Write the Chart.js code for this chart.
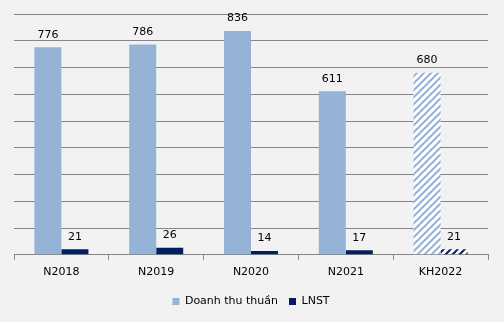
<!DOCTYPE html>
<html>
<head>
<meta charset="utf-8">
<script src="https://cdn.jsdelivr.net/npm/chart.js@4"></script>
<style>
  html, body { margin: 0; padding: 0; background: #f2f2f2; }
  #wrap { width: 504px; height: 322px; }
</style>
</head>
<body>
<div id="wrap"><canvas id="chart" width="504" height="322"></canvas></div>
<script>
// chart data
const categories = ["N2018", "N2019", "N2020", "N2021", "KH2022"];
const revenue = [776, 786, 836, 611, 680];
const profit = [21, 26, 14, 17, 21];
const seriesNames = ["Doanh thu thuần", "LNST"];
const planIndex = 4; // last column is the plan (hatched)

const BLUE = "#95b3d7";
const NAVY = "#002060";
const FONT = "'DejaVu Sans', sans-serif";

// diagonal hatch pattern
function hatch(color) {
  const c = document.createElement("canvas");
  c.width = 7;
  c.height = 7;
  const ctx = c.getContext("2d");
  ctx.fillStyle = "#ffffff";
  ctx.fillRect(0, 0, 7, 7);
  ctx.strokeStyle = color;
  ctx.lineWidth = 2;
  ctx.beginPath();
  ctx.moveTo(-2, 9); ctx.lineTo(9, -2);
  ctx.moveTo(-5, 5); ctx.lineTo(5, -5);
  ctx.moveTo(2, 12); ctx.lineTo(12, 2);
  ctx.stroke();
  return ctx.createPattern(c, "repeat");
}

const canvas = document.getElementById("chart");
const blueHatch = hatch(BLUE);
const navyHatch = hatch(NAVY);

const revenueColors = categories.map((_, i) => (i === planIndex ? blueHatch : BLUE));
const profitColors = categories.map((_, i) => (i === planIndex ? navyHatch : NAVY));

// value labels above bars
const valueLabels = {
  id: "valueLabels",
  afterDatasetsDraw(chart) {
    const ctx = chart.ctx;
    ctx.save();
    ctx.font = "11px " + FONT;
    ctx.fillStyle = "#000";
    ctx.textAlign = "center";
    ctx.textBaseline = "bottom";
    chart.data.datasets.forEach((ds, di) => {
      const meta = chart.getDatasetMeta(di);
      meta.data.forEach((bar, i) => {
        ctx.fillText(String(ds.data[i]), bar.x, bar.y - 7);
      });
    });
    ctx.restore();
  },
};

new Chart(canvas, {
  type: "bar",
  data: {
    labels: categories,
    datasets: [
      {
        label: seriesNames[0],
        data: revenue,
        backgroundColor: revenueColors,
        borderWidth: 0,
        barPercentage: 1,
        categoryPercentage: 0.57,
      },
      {
        label: seriesNames[1],
        data: profit,
        backgroundColor: profitColors,
        borderWidth: 0,
        barPercentage: 1,
        categoryPercentage: 0.57,
      },
    ],
  },
  options: {
    responsive: false,
    animation: false,
    layout: { padding: { left: 14, right: 16, top: 14, bottom: 5 } },
    plugins: {
      tooltip: { enabled: false },
      legend: {
        position: "bottom",
        labels: {
          font: { family: FONT, size: 11 },
          color: "#000",
          boxWidth: 7,
          boxHeight: 7,
          padding: 11,
          generateLabels(chart) {
            return chart.data.datasets.map((ds, i) => ({
              text: ds.label,
              fillStyle: i === 0 ? BLUE : NAVY,
              strokeStyle: i === 0 ? BLUE : NAVY,
              lineWidth: 0,
              datasetIndex: i,
            }));
          },
        },
      },
    },
    scales: {
      x: {
        grid: {
          drawOnChartArea: false,
          drawTicks: true,
          tickLength: 5,
          color: "#868686",
          offset: true,
        },
        border: { color: "#868686", width: 1 },
        ticks: { font: { family: FONT, size: 11 }, color: "#000", padding: 6 },
      },
      y: {
        min: 0,
        max: 900,
        ticks: { display: false, stepSize: 100 },
        grid: { color: "#868686", drawTicks: false },
        border: { display: false },
      },
    },
  },
  plugins: [valueLabels],
});
</script>
</body>
</html>
